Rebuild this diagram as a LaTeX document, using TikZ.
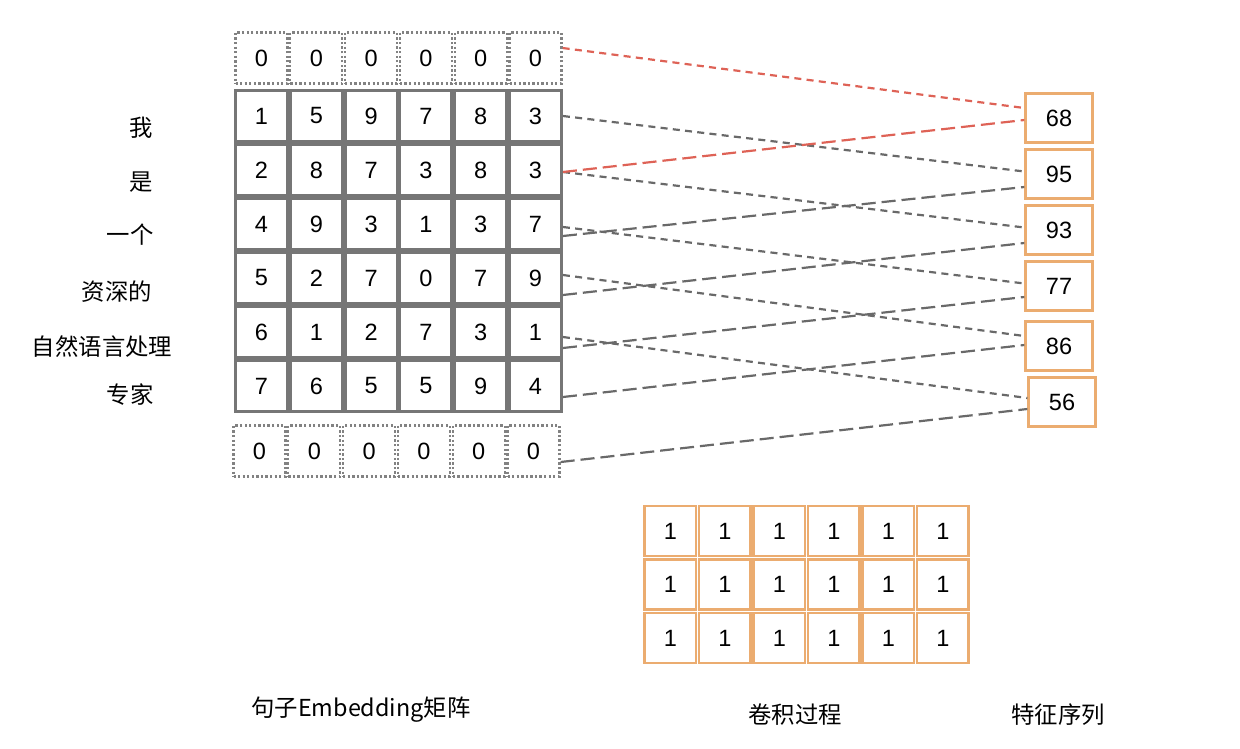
\documentclass[tikz,border=0pt]{standalone}
\usepackage{fontspec}
\setmainfont{Liberation Sans}
\newfontfamily\cjk{Noto Sans CJK SC}
\usetikzlibrary{arrows.meta}

\definecolor{cellgray}{RGB}{118,118,118}
\definecolor{padgray}{RGB}{130,130,130}
\definecolor{korange}{RGB}{235,172,112}
\definecolor{linkgray}{RGB}{105,105,105}
\definecolor{linkred}{RGB}{222,98,86}

\tikzset{
cell/.style={draw=cellgray, line width=1.6pt, minimum width=1.04cm, minimum height=1.02cm, inner sep=0pt, font=\fontsize{13.4}{15}\selectfont},
padcell/.style={cell, draw=padgray, line width=1.3pt, dash pattern=on 1.3pt off 1.3pt},
kcell/.style={cell, draw=korange, minimum width=1.03cm, minimum height=1.0cm},
feat/.style={cell, draw=korange, line width=1.3pt, minimum width=1.34cm, minimum height=0.98cm},
word/.style={font=\cjk\fontsize{13.3}{15}\selectfont, inner sep=0pt},
shortlink/.style={draw=linkgray, line width=1.25pt, dash pattern=on 4pt off 3pt},
longlink/.style={draw=linkgray, line width=1.25pt, dash pattern=on 8pt off 3.4pt}
}

\begin{document}
\begin{tikzpicture}[x=0.02cm, y=-0.02cm]
    \useasboundingbox (0,0) rectangle (1240,748);

    % sentence matrix, padded with zero rows
    \foreach \c in {1,...,6} {
        \node[padcell] (m-0-\c) at (206.7+54.8*\c,58) {0};
        \node[padcell] (m-7-\c) at (204.7+54.8*\c,451) {0};
    }
    \foreach \r/\y/\vals in {1/116/{1,5,9,7,8,3}, 2/170/{2,8,7,3,8,3}, 3/224/{4,9,3,1,3,7},
                             4/278/{5,2,7,0,7,9}, 5/332/{6,1,2,7,3,1}, 6/386/{7,6,5,5,9,4}} {
        \foreach \v [count=\c] in \vals
            \node[cell] (m-\r-\c) at (206.7+54.8*\c,\y) {\v};
    }

    % words of the sentence
    \node[word] (w1) at (141,128) {我};
    \node[word] (w2) at (141,182) {是};
    \node[word] (w3) at (130,235) {一个};
    \node[word] (w4) at (117,292) {资深的};
    \node[word] (w5) at (102,347) {自然语言处理};
    \node[word] (w6) at (130,395) {专家};

    % convolution kernel
    \foreach \r/\y in {1/531, 2/584.5, 3/638}
        \foreach \c in {1,...,6}
            \node[kcell] (k-\r-\c) at (615.8+54.5*\c,\y) {1};

    % feature sequence
    \node[feat] (f1) at (1059,118) {68};
    \node[feat] (f2) at (1059,174) {95};
    \node[feat] (f3) at (1059,230) {93};
    \node[feat] (f4) at (1059,286) {77};
    \node[feat] (f5) at (1059,346) {86};
    \node[feat] (f6) at (1062,402) {56};

    % window edges to features
    \draw[shortlink, draw=linkred] ([yshift=0.2cm]m-0-6.east) -- ([yshift=0.2cm]f1.west);
    \draw[shortlink] (m-1-6.east) -- ([yshift=0.05cm]f2.west);
    \draw[shortlink] ([yshift=-0.04cm]m-2-6.east) -- ([yshift=0.05cm]f3.west);
    \draw[shortlink] ([yshift=-0.06cm]m-3-6.east) -- ([yshift=0.05cm]f4.west);
    \draw[shortlink] ([yshift=0.06cm]m-4-6.east) -- ([yshift=0.2cm]f5.west);
    \draw[shortlink] ([yshift=-0.1cm]m-5-6.east) -- ([yshift=0.08cm]f6.west);

    \draw[longlink] ([yshift=-0.24cm]m-3-6.east) -- ([yshift=-0.26cm]f2.west);
    \draw[longlink] ([yshift=-0.34cm]m-4-6.east) -- ([yshift=-0.26cm]f3.west);
    \draw[longlink] ([yshift=-0.32cm]m-5-6.east) -- ([yshift=-0.22cm]f4.west);
    \draw[longlink] ([yshift=-0.22cm]m-6-6.east) -- ([yshift=0.02cm]f5.west);
    \draw[longlink] ([yshift=-0.22cm]m-7-6.east) -- ([yshift=-0.14cm]f6.west);
    \draw[longlink, draw=linkred] ([yshift=-0.04cm]m-2-6.east) -- ([yshift=-0.04cm]f1.west);

    % captions
    \node[word] (t1) at (361,710) {句子Embedding矩阵};
    \node[word] (t2) at (795,715) {卷积过程};
    \node[word] (t3) at (1058,715) {特征序列};

\end{tikzpicture}
\end{document}
